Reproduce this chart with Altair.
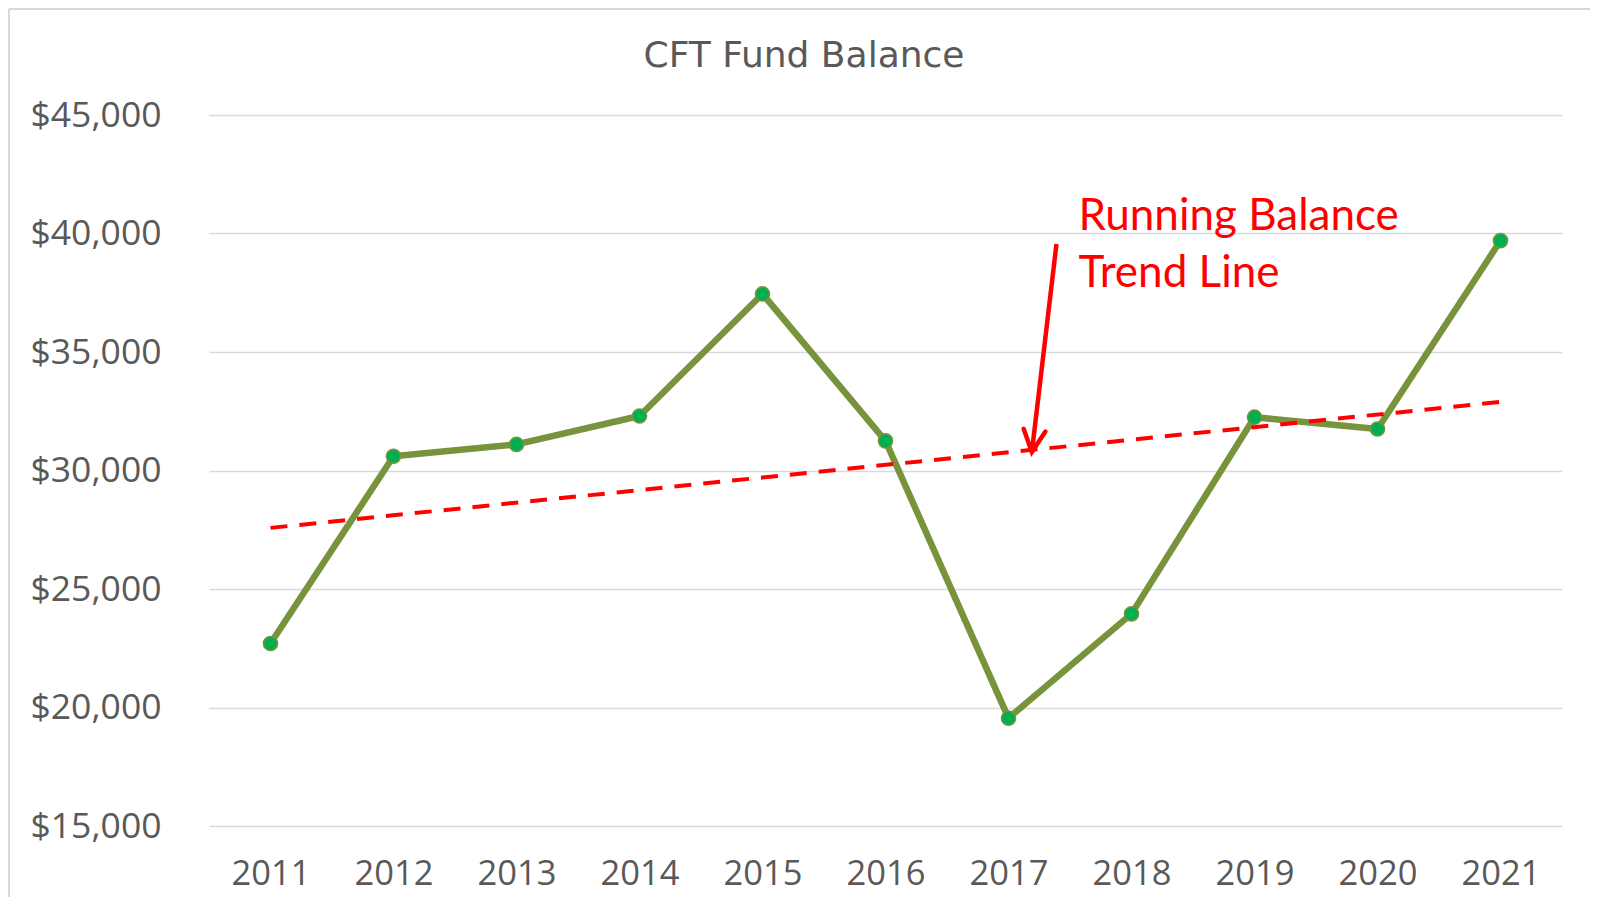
import altair as alt
import pandas as pd

# ---- data ----
years = [2011, 2012, 2013, 2014, 2015, 2016, 2017, 2018, 2019, 2020, 2021]
balances = [22700, 30600, 31100, 32300, 37450, 31250, 19550, 23950, 32250, 31750, 39700]
y_ticks = [15000, 20000, 25000, 30000, 35000, 40000, 45000]
title_text = ["CFT Fund Balance"]

annotation_lines = ["Running Balance", "Trend Line"]
annotation_years = [2017.57, 2017.57]
annotation_values = [40150, 37740]

arrow_years = [2017.39, 2017.19]
arrow_values = [39560, 30780]

# ---- tables ----
df = pd.DataFrame({"year": years, "balance": balances})
ann_df = pd.DataFrame({"year": annotation_years, "balance": annotation_values, "label": annotation_lines})
arrow_df = pd.DataFrame({"year": arrow_years, "balance": arrow_values, "order": [0, 1]})
tip_df = arrow_df.iloc[[1]]
title_df = pd.DataFrame({"title": title_text})

FONT = "Open Sans"
GRAY = "#595959"

x_enc = alt.X(
    "year:Q",
    scale=alt.Scale(domain=[2010.5, 2021.5], nice=False, zero=False),
    axis=alt.Axis(values=years, format="d", grid=False, domain=False, ticks=False,
                  labelPadding=31, title=None, labelFontSize=34.5, labelFont=FONT,
                  labelColor=GRAY, labelFlush=False),
)
y_enc = alt.Y(
    "balance:Q",
    scale=alt.Scale(domain=[15000, 45000], nice=False, zero=False),
    axis=alt.Axis(values=y_ticks, format="$,.0f", grid=True, domain=False, ticks=False,
                  labelPadding=48, title=None, labelFontSize=35.5, labelFont=FONT,
                  labelColor=GRAY, gridColor="#D9D9D9", gridWidth=1.5),
)

base = alt.Chart(df).encode(x=x_enc, y=y_enc)

line = base.mark_line(color="#77933C", strokeWidth=6.5, strokeJoin="round")
trend = base.transform_regression("year", "balance", extent=[2011, 2021]).mark_line(
    color="#FF0000", strokeWidth=4, strokeDash=[17, 12]
)
points = base.mark_point(
    filled=True, fill="#00B050", stroke="#77933C", strokeWidth=1.5, size=200, opacity=1
)

arrow = alt.Chart(arrow_df).mark_line(color="#FF0000", strokeWidth=4.5).encode(
    x="year:Q", y="balance:Q", order="order:Q"
)
arrow_head = alt.Chart(tip_df).mark_point(
    shape="M-0.5,-1L0,0L0.5,-1", size=1936, angle=7, filled=False,
    stroke="#FF0000", strokeWidth=4.5, opacity=1, strokeCap="round", strokeJoin="miter"
).encode(x="year:Q", y="balance:Q")

ann_text = alt.Chart(ann_df).mark_text(
    align="left", baseline="alphabetic", font="Lato", fontSize=44, color="#FF0000"
).encode(x="year:Q", y="balance:Q", text="label:N")

title = alt.Chart(title_df).mark_text(
    align="center", baseline="alphabetic", font="DejaVu Sans", fontSize=36, color=GRAY
).encode(x=alt.value(595), y=alt.value(-48), text="title:N")

# light border of the chart area (left and top edges)
border = alt.Chart(df).mark_rule(color="#D9D9D9", strokeWidth=2).encode(
    x=alt.value(-200), x2=alt.value(1400), y=alt.value(-106), y2=alt.value(-106)
)
border_left = alt.Chart(df).mark_rule(color="#D9D9D9", strokeWidth=2).encode(
    x=alt.value(-200), x2=alt.value(-200), y=alt.value(-106), y2=alt.value(800)
)

chart = alt.layer(
    border, border_left, line, trend, points, arrow, arrow_head, ann_text, title
).properties(
    width=1353,
    height=711,
    padding={"left": 201, "top": 107, "right": 28, "bottom": 71},
    autosize=alt.AutoSizeParams(type="none"),
).configure_view(stroke=None)

chart.save("out.html", embed_options={"renderer": "svg", "actions": False})
